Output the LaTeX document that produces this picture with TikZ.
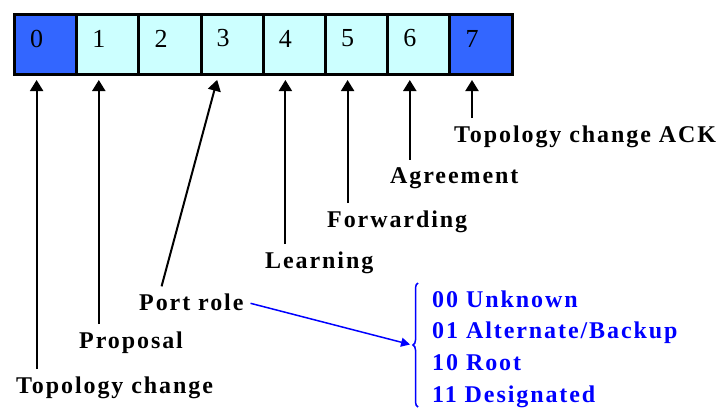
\documentclass[tikz,border=0pt]{standalone}
\usepackage{fontspec}
\setmainfont{Liberation Serif}
\usetikzlibrary{arrows.meta,decorations.pathreplacing}
\definecolor{bitoscuro}{RGB}{51,102,255}
\definecolor{bitclaro}{RGB}{204,255,255}
\definecolor{azul}{RGB}{0,0,255}

\begin{document}
\begin{tikzpicture}[x=1pt, y=-1pt,
    celda/.style={draw, line width=3pt, minimum width=62.2pt, minimum height=60pt, inner sep=0pt},
    cifra/.style={inner sep=0pt, font=\fontsize{26}{26}\selectfont},
    etiqueta/.style={anchor=base west, inner sep=1pt,
        font=\fontsize{24}{24}\selectfont\bfseries\addfontfeature{LetterSpace=8}},
    rol/.style={etiqueta, text=azul},
    flecha/.style={line width=2pt, -{Triangle[width=13pt,length=11pt]}, shorten >=4pt, shorten <=6pt}]
    \useasboundingbox (0,0) rectangle (725,410);
    % Los ocho bits
    \foreach \i/\c in {0/bitoscuro,1/bitclaro,2/bitclaro,3/bitclaro,4/bitclaro,5/bitclaro,6/bitclaro,7/bitoscuro} {
        \node[celda, fill=\c] (b\i) at ({45.6+62.2*\i},44.5) {};
        \node[cifra] (n\i) at ([xshift=-9pt,yshift=6pt]b\i.center) {\i};
        \coordinate (t\i) at ([xshift=-9pt]b\i.south);
    }
    \coordinate (t23) at ([xshift=-14pt]b3.south);
    % Etiquetas
    \node[etiqueta] (tc) at (15,393) {Topology change};
    \node[etiqueta] (pp) at (78,348) {Proposal};
    \node[etiqueta] (pr) at (138,310) {Port role};
    \node[etiqueta] (le) at (264,268) {Learning};
    \node[etiqueta] (fw) at (326,227) {Forwarding};
    \node[etiqueta] (ag) at (389,183) {Agreement};
    \node[etiqueta] (ack) at (453,142) {Topology change ACK};
    % Flechas
    \draw[flecha] (tc.north -| t0) -- (t0);
    \draw[flecha] (pp.north -| t1) -- (t1);
    \draw[flecha] ([xshift=22pt]pr.north west) -- (t23);
    \draw[flecha] (le.north -| t4) -- (t4);
    \draw[flecha] (fw.north -| t5) -- (t5);
    \draw[flecha] (ag.north -| t6) -- (t6);
    \draw[flecha] (ack.north -| t7) -- (t7);
    % Valores del rol
    \draw[azul, line width=1.5pt, decorate, decoration={brace, amplitude=5pt}]
        (418,407) -- (418,283);
    \coordinate (punta) at (412,345);
    \draw[azul, line width=1.5pt, -{Triangle[width=9pt,length=9pt]}, shorten >=2pt, shorten <=6pt]
        (pr.east) -- (punta);
    \node[rol] (r0) at (431,307) {00 Unknown};
    \node[rol] (r1) at (431,338) {01 Alternate/Backup};
    \node[rol] (r2) at (431,370) {10 Root};
    \node[rol] (r3) at (431,402) {11 Designated};
\end{tikzpicture}
\end{document}
